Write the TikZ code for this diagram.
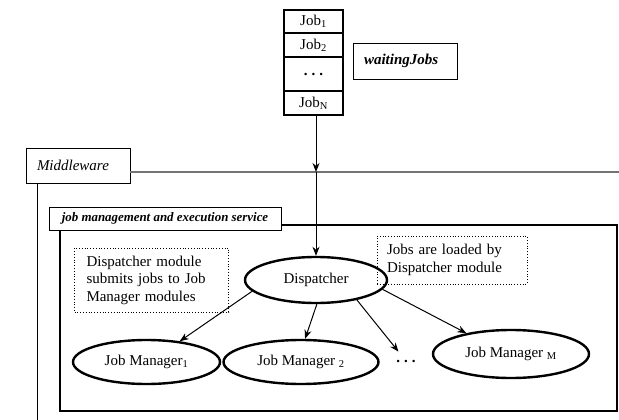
\documentclass[tikz,border=0pt]{standalone}
\usepackage{fontspec}
\setmainfont{Liberation Serif}
\usepackage{xcolor}
\usetikzlibrary{shapes.geometric,arrows.meta}
\definecolor{mygray}{gray}{0.45}
\tikzstyle{jobcell} = [draw,line width=2.2pt,minimum width=59pt,inner sep=0pt,font=\fontsize{15}{18}\selectfont]
\tikzstyle{module} = [ellipse,draw,line width=2.4pt,inner sep=0pt,font=\fontsize{15}{18}\selectfont]
\tikzstyle{note} = [draw,dotted,line width=0.8pt,align=left,text width=130pt,font=\fontsize{15}{17.5}\selectfont]
\tikzstyle{label} = [draw,fill=white,line width=0.9pt,align=left]
\tikzstyle{jobarrow} = [line width=1pt,-{Stealth[length=9pt,width=7pt]}]
\newcommand{\bigdots}{\textbf{.\hspace{4pt}.\hspace{4pt}.}}

\begin{document}
\begin{tikzpicture}[x=1pt,y=-1pt]
          \useasboundingbox (0,0) rectangle (619,420);
          % waiting jobs
          \node[jobcell,minimum height=23pt] (job1) at (313.5,21.5) {Job\textsubscript{1}};
          \node[jobcell,minimum height=24pt] (job2) at (313.5,45) {Job\textsubscript{2}};
          \node[jobcell,minimum height=34pt] (jobdots) at (313.5,74) {\bigdots};
          \node[jobcell,minimum height=24pt] (jobN) at (313.5,103) {Job\textsubscript{N}};
          \node[label,text width=82pt,inner xsep=11pt,minimum height=36pt,
                font=\fontsize{15}{18}\selectfont\bfseries\itshape] (waiting) at (405,61) {waitingJobs};

          % middleware
          \node[label,text width=82pt,inner xsep=11pt,minimum height=35pt,
                font=\fontsize{15}{18}\selectfont\itshape] (mw) at (78,165.5) {Middleware};
          \coordinate (mwend) at (619,172);
          \coordinate (mwbottom) at (37,420);
          \draw[color=mygray,line width=1.4pt] (mw.east |- mwend) -- (mwend);
          \draw[line width=0.9pt] (mw.south -| mwbottom) -- (mwbottom);

          % job management and execution service
          \draw[line width=1.8pt] (60,225) rectangle (617,411);
          \node[label,minimum width=232pt,minimum height=23pt,inner sep=0pt,
                font=\fontsize{12.9}{15}\selectfont\bfseries\itshape] (jmes) at (165,218.5) {job management and execution service};

          % modules
          \node[module,minimum width=142pt,minimum height=46pt] (disp) at (316,280) {Dispatcher};
          \node[module,minimum width=147pt,minimum height=44pt] (jm1) at (146.5,362) {Job Manager\textsubscript{1}};
          \node[module,minimum width=155pt,minimum height=44pt] (jm2) at (301,362) {Job Manager \textsubscript{2}};
          \node[module,minimum width=156pt,minimum height=48pt] (jmM) at (511,354) {Job Manager \textsubscript{M}};
          \node[inner sep=8pt,font=\fontsize{15}{18}\selectfont] (dots) at (406,361) {\bigdots};

          % notes
          \node[note,inner xsep=12pt,minimum height=64pt] (note1) at (151.5,280)
                {Dispatcher module\\ submits jobs to Job\\ Manager modules};
          \node[note,inner xsep=10pt,minimum height=48pt] (note2) at (452,260)
                {Jobs are loaded by\\ Dispatcher module};

          % arrows
          \coordinate (cross) at (316,172);
          \draw[jobarrow] (jobN.south -| cross) -- (cross);
          \draw[jobarrow] (cross) -- (disp.north);
          \draw[jobarrow] (disp.190) -- (jm1.32);
          \draw[jobarrow] (disp.-88) -- (jm2.80);
          \draw[jobarrow] (disp.-26) -- (dots);
          \draw[jobarrow] (disp.-8) -- (jmM.155);
\end{tikzpicture}
\end{document}
